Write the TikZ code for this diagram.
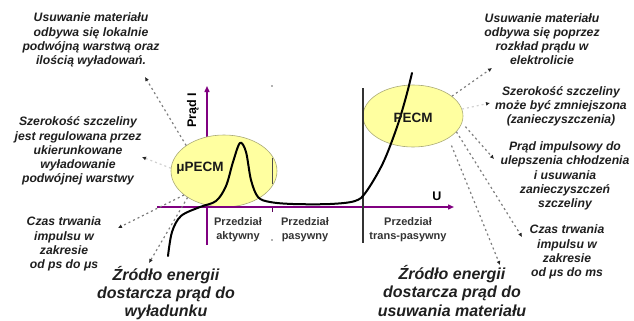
\documentclass[tikz,border=0pt]{standalone}
\usepackage{fontspec}
\setmainfont{Liberation Sans}
\usetikzlibrary{shapes.geometric,arrows.meta}

\definecolor{axispurple}{RGB}{128,0,128}
\definecolor{blobfill}{RGB}{255,255,160}
\definecolor{blobedge}{RGB}{170,170,120}
\definecolor{leadgray}{RGB}{125,125,125}

\tikzset{
  axisline/.style={draw=axispurple,line width=1.4pt},
  blob/.style={ellipse,draw=blobedge,line width=0.6pt,fill=blobfill,inner sep=0pt},
  note/.style={font=\fontsize{12.2}{14.2}\selectfont\bfseries\itshape,align=center,
               text=black!88,inner sep=0pt},
  bignote/.style={font=\fontsize{16}{18.3}\selectfont\bfseries\itshape,align=center,
               text=black!88,inner sep=0pt},
  zone/.style={font=\fontsize{11}{14}\selectfont\bfseries,align=center,text=black!80,inner sep=0pt},
  blobtext/.style={font=\fontsize{13.5}{16}\selectfont\bfseries,text=black!90,inner sep=0pt},
  lead/.style={draw=leadgray,line width=1.2pt,dash pattern=on 2pt off 3pt,
               -{Latex[length=4pt,width=4pt,color=black!85]}},
  faintlead/.style={lead,draw=leadgray!35},
}

\begin{document}
\begin{tikzpicture}[x=1pt,y=-1pt]
  \fill[white] (0,0) rectangle (634,321);
  \useasboundingbox (0,0) rectangle (634,321);

  % current axis (drawn first so the yellow areas cover it)
  \coordinate (ybase) at (207,245);
  \coordinate (ytop) at (207,86);
  \draw[axisline,-{Triangle[length=6pt,width=5pt]}] (ybase) -- (ytop);

  % the two working regions
  \node[blob,minimum width=106pt,minimum height=72pt] (mu) at (224,171) {};
  \node[blob,minimum width=100pt,minimum height=62pt] (pecm) at (413,116) {};

  % boundary between the active and passive ranges
  \begin{scope}
    \clip (224,171) ellipse [x radius=52.5, y radius=35.5];
    \draw[black!70,line width=0.8pt] (272,120) -- (272,207);
  \end{scope}
  \fill[black!60] (272,86) circle (0.9);
  \fill[black!60] (272,240) circle (0.9);
  \draw[axispurple!70!black,line width=0.9pt] (272,207) -- (272,212);

  % voltage axis
  \coordinate (xbase) at (157,207);
  \coordinate (xtop) at (454,207);
  \draw[axisline,-{Triangle[length=6pt,width=5pt]}] (xbase) -- (xtop);

  % start of the trans-passive range
  \coordinate (tpa) at (363,88);
  \coordinate (tpb) at (363,243);
  \draw[black!80,line width=1.3pt] (tpa) -- (tpb);

  % current-voltage characteristic
  \draw[black,line width=2pt,line cap=round,smooth,tension=0.55] plot coordinates {
    (168,256) (172,232) (181,216) (200,207) (216,201) (226,186) (233,162)
    (240,143) (246,152) (251,180) (258,197) (270,202) (293,204) (330,204)
    (355,201) (366,192) (383,163) (397,127) (406,97) (412,73)};

  % axis and region labels
  \node[font=\fontsize{12.5}{14}\selectfont\bfseries,rotate=90,inner sep=0pt] (ilab) at (193,110) {Prąd I};
  \node[font=\fontsize{12.5}{14}\selectfont\bfseries,inner sep=0pt] (ulab) at (437,196) {U};
  \node[blobtext] (mulab) at (200,168) {μPECM};
  \node[blobtext] (pecmlab) at (413,118) {PECM};

  \node[zone] (act) at (238,230) {Przedział\\aktywny};
  \node[zone] (pas) at (305,230) {Przedział\\pasywny};
  \node[zone] (trp) at (408,230) {Przedział\\trans-pasywny};

  % notes on the micro side
  \node[note] (n1) at (91,40) {Usuwanie materiału\\odbywa się lokalnie\\podwójną warstwą oraz\\ilością wyładowań.};
  \node[note] (n2) at (78,151) {Szerokość szczeliny\\jest regulowana przez\\ukierunkowane\\wyładowanie\\podwójnej warstwy};
  \node[note] (n3) at (64,244) {Czas trwania\\impulsu w\\zakresie\\od ps do μs};
  \node[bignote] (n4) at (166,293) {Źródło energii\\dostarcza prąd do\\wyładunku};

  % notes on the conventional side
  \node[note] (m1) at (542,39) {Usuwanie materiału\\odbywa się poprzez\\rozkład prądu w\\elektrolicie};
  \node[note] (m2) at (561,106) {Szerokość szczeliny\\może być zmniejszona\\(zanieczyszczenia)};
  \node[note] (m3) at (565,176) {Prąd impulsowy do\\ulepszenia chłodzenia\\i usuwania\\zanieczyszczeń\\szczeliny};
  \node[note] (m4) at (567,252) {Czas trwania\\impulsu w\\zakresie\\od μs do ms};
  \node[bignote] (m5) at (452,291) {Źródło energii\\dostarcza prąd do\\usuwania materiału};

  % leader ends next to the notes
  \coordinate (t1) at (145,77);
  \coordinate (t2) at (142,157);
  \coordinate (t3) at (118,228);
  \coordinate (t4) at (149,263);
  \coordinate (s1) at (492,68);
  \coordinate (s2) at (490,103);
  \coordinate (s3) at (494,159);
  \coordinate (s4) at (522,237);
  \coordinate (s5) at (500,265);

  % leaders from the regions to the notes
  \draw[lead] (mu.146) -- (t1);
  \draw[faintlead] (mu.177) -- (t2);
  \draw[lead] (mu.211) -- (t3);
  \draw[lead] (mu.216) -- (t4);

  \draw[lead] (pecm.27) -- (s1);
  \draw[faintlead] (pecm.8) -- (s2);
  \draw[lead,shorten <=5pt] (pecm.-8) -- (s3);
  \draw[lead] (pecm.-20) -- (s4);
  \draw[lead,shorten <=8pt] (pecm.-32) -- (s5);
\end{tikzpicture}
\end{document}
